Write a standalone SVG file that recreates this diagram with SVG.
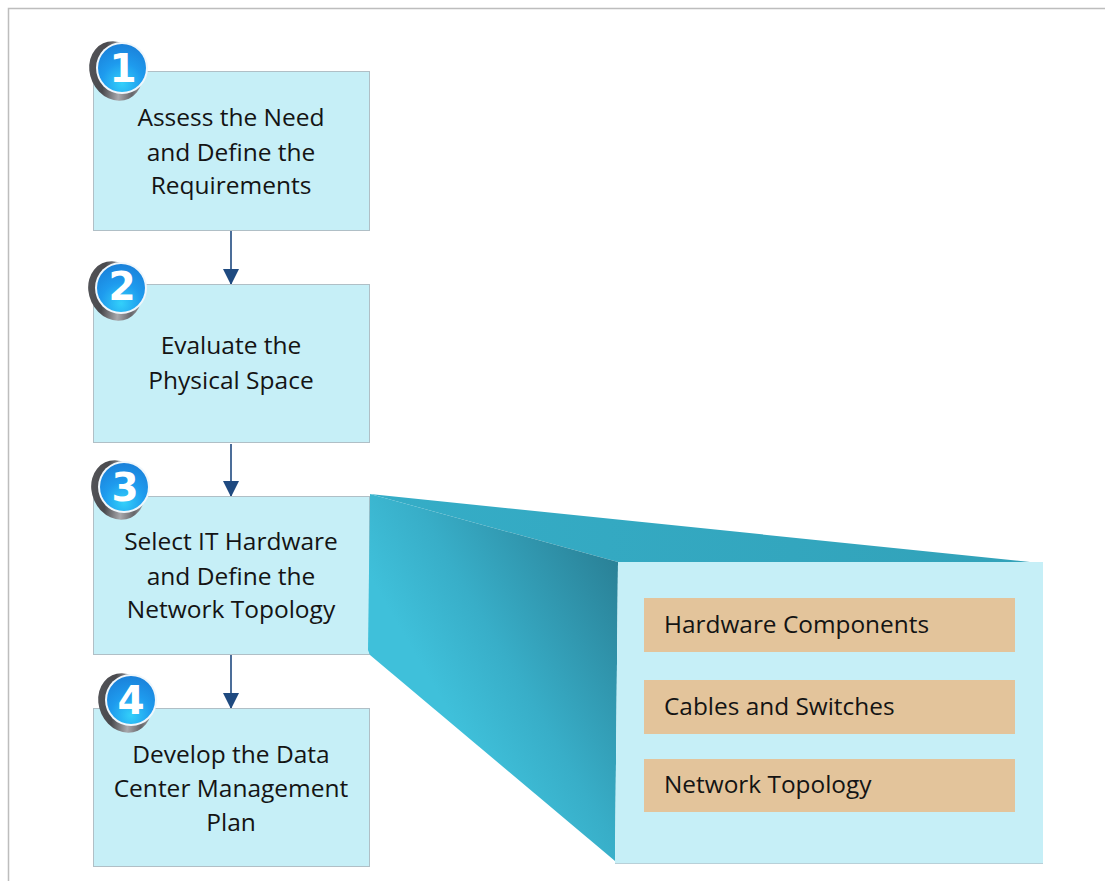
<svg xmlns="http://www.w3.org/2000/svg" width="1105" height="881" viewBox="0 0 1105 881">
<style>
.box{fill:#c6eff7;stroke:#b0bfc6;stroke-width:1}
.bar{fill:#e3c49b}
.t{font-family:"Open Sans","Noto Sans",sans-serif;font-size:24.5px;fill:#141414;text-anchor:middle}
.l{font-family:"Open Sans","Noto Sans",sans-serif;font-size:24.4px;fill:#141414}
.n{font-family:"DejaVu Sans",sans-serif;font-size:39px;font-weight:bold;fill:#fff;text-anchor:middle}
.c{stroke:#1f4a80;stroke-width:1.6;fill:none;marker-end:url(#ah)}
</style>
<defs>
<marker id="ah" markerUnits="userSpaceOnUse" markerWidth="16" markerHeight="17" refX="16" refY="8" orient="auto"><path d="M0 0L16 8L0 16Z" fill="#1f4a80"/></marker>
<linearGradient id="side" gradientUnits="userSpaceOnUse" x1="430" y1="680" x2="618" y2="570"><stop offset="0" stop-color="#3fc0da"/><stop offset="0.35" stop-color="#38aec8"/><stop offset="1" stop-color="#2a8298"/></linearGradient>
<linearGradient id="top" x1="0" y1="0" x2="1" y2="0"><stop offset="0" stop-color="#35adc7"/><stop offset="1" stop-color="#32a2b9"/></linearGradient>
<radialGradient id="blue" cx="0.5" cy="0.82" r="0.85"><stop offset="0" stop-color="#33d0fa"/><stop offset="0.5" stop-color="#1e9bee"/><stop offset="1" stop-color="#1a7fd8"/></radialGradient>
<linearGradient id="ring" x1="0" y1="0.2" x2="1" y2="0.9"><stop offset="0" stop-color="#55565a"/><stop offset="0.3" stop-color="#4a4a4e"/><stop offset="0.55" stop-color="#a8a8ac"/><stop offset="0.75" stop-color="#66666a"/><stop offset="1" stop-color="#c8c8cc"/></linearGradient>
<g id="badge"><ellipse cx="-6" cy="3" rx="26" ry="30.500" transform="rotate(-25 -6 3)" fill="url(#ring)"/><circle cx="0" cy="0" r="26" fill="#f0f7fc"/><circle cx="0" cy="0" r="24" fill="url(#blue)"/></g>
</defs>
<path d="M8.500 881V8.500H1105" fill="none" stroke="#bdbdbd" stroke-width="1.500"/>
<g id="connectors">
<path class="c" d="M231 231V285"/>
<path class="c" d="M231 444V497"/>
<path class="c" d="M231 655V709"/>
</g>
<g id="node1"><rect class="box" x="93.500" y="71.500" width="276" height="159"/>
<use href="#badge" x="122" y="68"/><text class="n" x="123" y="82">1</text>
<text class="t" x="231" y="126">Assess the Need</text><text class="t" x="231" y="161">and Define the</text><text class="t" x="231" y="194">Requirements</text></g>
<g id="node2"><rect class="box" x="93.500" y="284.500" width="276" height="158"/>
<use href="#badge" x="121" y="288"/><text class="n" x="122" y="300">2</text>
<text class="t" x="231" y="354">Evaluate the</text><text class="t" x="231" y="389">Physical Space</text></g>
<g id="node3"><rect class="box" x="93.500" y="496.500" width="276" height="158"/>
<use href="#badge" x="124" y="487"/><text class="n" x="125" y="501">3</text>
<text class="t" x="231" y="550">Select IT Hardware</text><text class="t" x="231" y="585">and Define the</text><text class="t" x="231" y="618">Network Topology</text></g>
<g id="node4"><rect class="box" x="93.500" y="708.500" width="276" height="158"/>
<use href="#badge" x="131" y="700"/><text class="n" x="131" y="714">4</text>
<text class="t" x="231" y="763">Develop the Data</text><text class="t" x="231" y="797">Center Management</text><text class="t" x="231" y="831">Plan</text></g>
<g id="callout">
<path d="M370 494L1030 562H618Z" fill="url(#top)"/>
<path d="M370 494L618 562L615 861L370 655L368 650Z" fill="url(#side)"/>
<path d="M618 562H1043V863H615Z" fill="#c6eff7"/>
<path d="M615 863.500H1043" stroke="#b8d0d8" stroke-width="1"/>
</g>
<g id="item1"><rect class="bar" x="644" y="598" width="371" height="54"/><text class="l" x="664" y="633">Hardware Components</text></g>
<g id="item2"><rect class="bar" x="644" y="680" width="371" height="54"/><text class="l" x="664" y="715">Cables and Switches</text></g>
<g id="item3"><rect class="bar" x="644" y="759" width="371" height="53"/><text class="l" x="664" y="793">Network Topology</text></g>
</svg>
